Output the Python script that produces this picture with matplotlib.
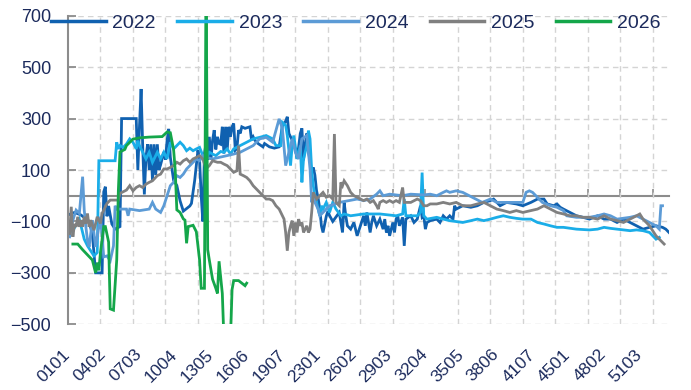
import matplotlib
matplotlib.use("Agg")
import matplotlib.pyplot as plt

plt.rcParams['font.family'] = ['Liberation Sans', 'DejaVu Sans']

# x = day index of the year (week/day code labels below)
tick_days = [0, 22, 44, 66, 88, 110, 132, 154, 176, 198, 220, 242, 264, 286, 308, 330, 352]
tick_labels = ['0101', '0402', '0703', '1004', '1305', '1606', '1907', '2301', '2602',
               '2903', '3204', '3505', '3806', '4107', '4501', '4802', '5103']
grid_days = [20, 40, 60, 80, 100, 120, 140, 160, 180, 200, 220, 240, 260, 280, 300, 320, 340, 360]

days_2022 = [0, 4, 8, 11, 13, 15, 17, 21, 22, 23, 24, 25, 27, 29, 32, 33, 42, 43, 44, 45, 46, 47, 48, 49,
             50, 51, 52, 53, 54, 55, 56, 57, 59, 60, 61, 62, 63, 65, 67, 69, 71, 73, 75, 76, 78, 79, 80,
             81, 82, 83, 84, 85, 86, 87, 88, 89, 90, 91, 92, 93, 94, 95, 96, 97, 98, 99, 100, 101, 102,
             103, 104, 105, 106, 107, 109, 112, 113, 114, 115, 117, 120, 121, 124, 127, 130, 132, 134,
             135, 136, 138, 140, 141, 142, 143, 144, 145, 146, 147, 148, 149, 150, 151, 152, 153, 154,
             155, 156, 157, 159, 160, 161, 163, 167, 169, 170, 171, 172, 174, 176, 178, 180, 182, 183,
             184, 186, 187, 188, 190, 192, 194, 195, 196, 197, 198, 200, 201, 202, 203, 204, 206, 207,
             208, 211, 213, 215, 216, 217, 218, 219, 220, 221, 223, 227, 229, 231, 233, 235, 237, 238,
             239, 243, 248, 252, 256, 260, 262, 264, 266, 270, 276, 280, 285, 289, 293, 295, 299, 301,
             303, 305, 309, 313, 317, 321, 326, 330, 334, 338, 342, 346, 350, 354, 358, 362, 366, 368, 370]
vals_2022 = [-75, -65, -75, -90, -100, -150, -300, -300, 15, 35, -80, -40, -110, -130, -120, 300, 300, 100,
             270, 415, 190, 5, 150, 200, 100, 200, 60, 200, 80, 200, 100, 120, 170, 140, 215, 260, 150, 60,
             40, -20, -60, -50, -40, -30, 60, 120, 177, 140, 0, -100, 164, 203, 140, 229, 140, 216, 255,
             180, 229, 203, 200, 268, 164, 268, 177, 268, 229, 268, 281, 177, 184, 255, 242, 268, 262,
             268, 216, 229, 216, 203, 190, 203, 190, 185, 190, 273, 290, 307, 242, 216, 180, 145, 190,
             242, 262, 138, 200, 242, 170, 140, 90, 110, 80, 20, -10, -51, -117, -143, -80, -60, -77,
             -100, -65, -143, -26, -78, -117, -130, -104, -156, -117, -78, -117, -65, -143, -104, -78,
             -117, -91, -130, -91, -143, -117, -156, -104, -143, -91, -78, -117, -84, -195, -91, -78,
             -104, -91, -65, -39, -84, -78, -130, -104, -97, -91, -104, -78, -91, -78, -91, -39, -52,
             -39, -45, -39, -26, -19, -13, -26, -39, -26, -32, -39, -26, -13, -13, -32, -39, -32, -45,
             -52, -65, -78, -84, -91, -78, -91, -91, -104, -91, -104, -117, -130, -123, -117, -123, -130, -143]

days_2023 = [0, 3, 7, 10, 12, 16, 18, 19, 29, 30, 31, 32, 34, 36, 38, 40, 42, 43, 44, 46, 48, 50, 52, 55,
             57, 59, 61, 63, 65, 67, 69, 71, 73, 75, 77, 79, 81, 83, 85, 87, 89, 91, 94, 96, 98, 100, 102,
             106, 110, 114, 118, 122, 126, 128, 131, 132, 134, 135, 137, 138, 139, 141, 143, 144, 145,
             147, 148, 149, 150, 151, 152, 153, 155, 156, 157, 159, 161, 163, 165, 168, 170, 174, 182,
             192, 202, 206, 207, 208, 215, 217, 218, 219, 221, 227, 231, 235, 243, 248, 252, 256, 260,
             264, 268, 272, 276, 280, 285, 289, 293, 297, 301, 305, 313, 321, 326, 330, 334, 338, 342,
             346, 350, 354, 358, 362, 364]
vals_2023 = [-143, -136, -91, -169, -195, -234, -221, 136, 136, 208, 182, 195, 188, 201, 221, 208, 182,
             214, 195, 169, 143, 169, 130, 169, 143, 169, 143, 208, 182, 195, 208, 195, 175, 185, 175,
             182, 188, 156, 143, 169, 162, 156, 172, 169, 182, 162, 182, 195, 208, 221, 227, 234, 221,
             195, 195, 285, 273, 234, 117, 195, 234, 143, 195, 52, 143, 195, 253, 221, 100, 39, 0, -26,
             -78, -39, -52, -26, -65, -26, -52, -78, -71, -78, -71, -71, -78, -71, -13, -78, -78, -65,
             90, -78, -91, -84, -91, -97, -104, -97, -91, -97, -91, -84, -78, -84, -88, -91, -91, -104,
             -110, -117, -123, -123, -130, -133, -130, -123, -127, -130, -133, -136, -133, -136, -143,
             -169, -162]

days_2024 = [1, 2, 3, 5, 7, 9, 10, 11, 12, 13, 14, 15, 17, 19, 20, 22, 24, 26, 28, 29, 30, 36, 37, 38,
             44, 50, 52, 54, 57, 59, 61, 63, 65, 67, 69, 71, 73, 75, 77, 79, 81, 83, 85, 89, 93, 98, 102,
             106, 110, 114, 118, 122, 126, 130, 132, 134, 136, 138, 140, 142, 144, 147, 149, 150, 151,
             152, 154, 155, 157, 159, 161, 167, 173, 178, 182, 186, 190, 192, 194, 198, 206, 211, 219,
             223, 227, 231, 233, 235, 239, 243, 247, 251, 255, 260, 264, 272, 280, 282, 284, 286, 288,
             292, 297, 301, 305, 307, 313, 321, 326, 330, 334, 338, 346, 350, 354, 358, 362, 364, 365, 366]
vals_2024 = [-160, -121, -95, -56, -69, 74, -56, -121, -173, -199, -147, -95, -199, -121, -82, -238, -234,
             -253, -195, -39, -52, -52, -78, -52, -58, -52, -26, -52, -65, -39, 0, 39, 52, 78, 71, 84, 104,
             117, 130, 143, 136, 156, 149, 143, 149, 156, 162, 169, 182, 195, 221, 227, 208, 299, 260,
             117, 169, 221, 169, 143, 221, 234, 104, -26, 0, -26, -52, -78, -65, -52, -39, -26, -19, -13,
             -19, -13, 6, 19, 0, 6, 0, 6, 3, 6, 0, 13, 19, 13, 19, 13, 0, -13, -26, -13, -26, -26, -26,
             13, 19, 13, 0, -26, -39, -45, -58, -78, -84, -84, -78, -71, -78, -91, -84, -78, -91, -104,
             -117, -130, -39, -39]

days_2025 = [1, 2, 3, 4, 5, 6, 7, 8, 9, 10, 11, 12, 13, 14, 16, 18, 20, 21, 22, 24, 26, 31, 32, 36, 38,
             40, 42, 44, 46, 48, 50, 52, 55, 57, 59, 61, 63, 65, 67, 69, 71, 73, 75, 77, 79, 81, 83, 85,
             87, 89, 92, 94, 96, 98, 100, 102, 104, 105, 106, 108, 110, 112, 114, 116, 118, 120, 122,
             124, 126, 128, 130, 132, 133, 134, 135, 136, 137, 138, 139, 140, 141, 142, 143, 144, 145,
             147, 148, 149, 150, 151, 152, 153, 155, 157, 159, 161, 163, 164, 165, 167, 168, 169, 170,
             172, 174, 176, 178, 180, 182, 184, 186, 188, 190, 191, 192, 194, 196, 198, 200, 202, 204,
             206, 207, 211, 215, 217, 219, 221, 223, 227, 231, 235, 239, 243, 248, 252, 256, 260, 264,
             268, 272, 276, 280, 285, 289, 293, 297, 301, 305, 309, 313, 317, 321, 326, 330, 334, 338,
             342, 346, 350, 352, 354, 358, 362, 365, 367]
vals_2025 = [-147, -43, -160, -110, -121, -82, -121, -95, -121, -82, -108, -69, -121, -95, -134, -82,
             -108, -69, -56, -30, -17, -17, 9, 22, 39, 19, 32, 39, 32, 45, 52, 58, 78, 84, 104, 104, 110,
             117, 130, 123, 136, 143, 130, 143, 149, 156, 143, 104, 117, 136, 130, 130, 123, 117, 104, 91,
             97, 195, 84, 78, 71, 58, 39, 26, 13, 0, -13, -13, -19, -39, -52, -78, -91, -143, -214, -143,
             -117, -97, -156, -104, -143, -91, -117, -104, -143, -117, -143, -130, -65, 13, 0, -13, 0, 13,
             -6, 0, -13, 240, -26, -39, 52, 39, 58, 39, 13, 0, -6, -13, -19, -13, -26, -19, -39, -52, -26,
             -19, -26, -19, -26, -19, -26, 32, -26, -26, -13, -19, -39, -39, -32, -32, -26, -32, -26, -39,
             -39, -32, -26, -39, -52, -58, -65, -58, -65, -58, -52, -39, -52, -65, -71, -78, -78, -84, -84,
             -91, -78, -91, -97, -104, -91, -78, -71, -91, -117, -156, -175, -188]

days_2026 = [3, 6, 9, 12, 15, 17, 18, 19, 20, 22, 23, 25, 26, 28, 30, 31, 32, 35, 36, 40, 44, 50, 58,
             61, 63, 65, 66, 67, 69, 71, 72, 73, 74, 77, 79, 80, 81, 82, 84, 85, 86, 87, 89, 91, 92, 93,
             95, 96, 100, 101, 102, 105, 108, 109, 110]
vals_2026 = [-188, -188, -210, -230, -250, -300, -260, -290, -220, -120, -120, -180, -440, -445, -250, 20,
             170, 180, 195, 220, 225, 228, 230, 248, 245, 180, 100, -55, -65, -90, -95, -185, -120, -115,
             -140, -195, -250, -360, -360, 900, -210, -250, -325, -360, -380, -255, -380, -560, -560,
             -365, -330, -330, -345, -350, -340]

series = [
    ('2022', days_2022, vals_2022, '#1061B0'),
    ('2023', days_2023, vals_2023, '#1AADE8'),
    ('2024', days_2024, vals_2024, '#5C9BD6'),
    ('2025', days_2025, vals_2025, '#808080'),
    ('2026', days_2026, vals_2026, '#14A64A'),
]

TEXT = '#1B2A5C'
AXIS_GREY = '#8C8C8C'
GRID = '#D4D4D4'

fig = plt.figure(figsize=(6.91, 3.90), dpi=100)
ax = fig.add_axes([0.0984, 0.1685, 0.8698, 0.7912])

for name, d, v, c in series:
    ax.plot(d, v, color=c, lw=2.0, label=name, solid_joinstyle='miter')

ax.set_xlim(0, 370)
ax.set_ylim(-500, 700)
ax.set_yticks(range(-500, 701, 200))

ax.set_xticks(tick_days)
ax.set_xticklabels(tick_labels, rotation=45, ha='right', va='center', rotation_mode='anchor')
ax.set_xticks(grid_days, minor=True)
ax.tick_params(axis='x', which='both', length=0, pad=20, labelsize=12.5, labelcolor=TEXT)
ax.tick_params(axis='y', direction='in', length=6, width=1.3, color=AXIS_GREY,
               pad=12, labelsize=13, labelcolor=TEXT)

ax.grid(axis='y', which='major', color=GRID, ls=(0, (4, 3)), lw=1)
ax.grid(axis='x', which='minor', color=GRID, ls=(0, (4, 3)), lw=1)
ax.grid(axis='x', which='major', visible=False)
ax.set_axisbelow(True)

for s in ['top', 'right', 'bottom']:
    ax.spines[s].set_visible(False)
ax.spines['left'].set_color(AXIS_GREY)
ax.spines['left'].set_linewidth(1.5)

# category axis crossing at zero
zero_ax = ax.secondary_xaxis(500 / 1200)
zero_ax.set_xticks(grid_days)
zero_ax.tick_params(direction='in', length=5, width=1.2, color=AXIS_GREY, labelbottom=False)
zero_ax.spines['bottom'].set_color(AXIS_GREY)
zero_ax.spines['bottom'].set_linewidth(1.5)

leg = ax.legend(loc='center', bbox_to_anchor=(0.479, 0.975), ncol=5, frameon=False,
                fontsize=14, handlelength=2.8, handletextpad=0.35, columnspacing=1.1,
                labelcolor=TEXT, borderaxespad=0)
for h in leg.get_lines():
    h.set_linewidth(2.5)

fig.savefig('out.png', dpi=100)
print('Wrote out.png')
